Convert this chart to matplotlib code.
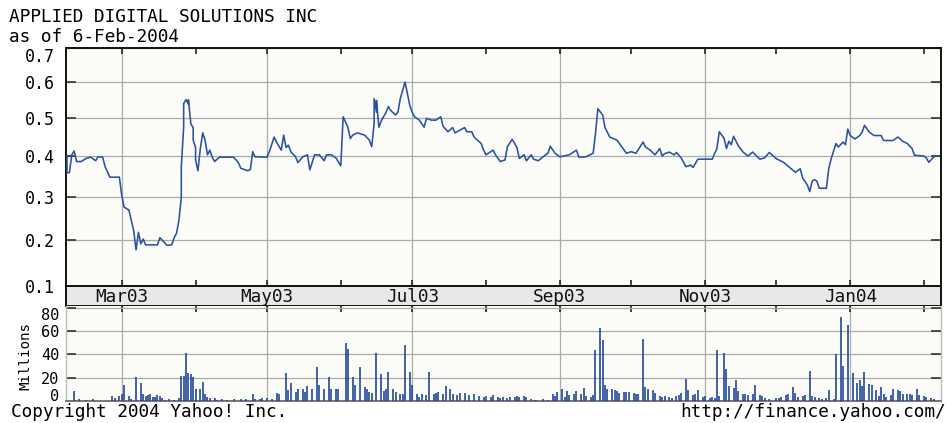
import numpy as np
import matplotlib
matplotlib.use('Agg')
import matplotlib.pyplot as plt
import matplotlib.dates as mdates
import matplotlib.transforms as mtransforms

# ---- chart text ----
TITLE = "APPLIED DIGITAL SOLUTIONS INC"
SUBTITLE = "as of 6-Feb-2004"
FOOT_LEFT = "Copyright 2004 Yahoo! Inc."
FOOT_RIGHT = "http://finance.yahoo.com/"

# ---- daily close ----
price_dates = [
    '2003-02-06', '2003-02-06', '2003-02-07', '2003-02-08', '2003-02-09', '2003-02-10',
    '2003-02-12', '2003-02-14', '2003-02-16', '2003-02-18', '2003-02-19', '2003-02-21',
    '2003-02-22', '2003-02-24', '2003-02-28', '2003-03-01', '2003-03-02', '2003-03-04',
    '2003-03-05', '2003-03-06', '2003-03-07', '2003-03-08', '2003-03-09', '2003-03-10',
    '2003-03-11', '2003-03-16', '2003-03-17', '2003-03-19', '2003-03-20', '2003-03-22',
    '2003-03-23', '2003-03-24', '2003-03-25', '2003-03-26', '2003-03-26', '2003-03-27',
    '2003-03-27', '2003-03-28', '2003-03-29', '2003-03-29', '2003-03-30', '2003-03-31',
    '2003-03-31', '2003-04-01', '2003-04-01', '2003-04-02', '2003-04-03', '2003-04-04',
    '2003-04-05', '2003-04-06', '2003-04-07', '2003-04-08', '2003-04-09', '2003-04-11',
    '2003-04-17', '2003-04-19', '2003-04-20', '2003-04-23', '2003-04-24', '2003-04-25',
    '2003-04-26', '2003-05-01', '2003-05-02', '2003-05-04', '2003-05-05', '2003-05-07',
    '2003-05-08', '2003-05-09', '2003-05-10', '2003-05-11', '2003-05-13', '2003-05-14',
    '2003-05-16', '2003-05-18', '2003-05-19', '2003-05-21', '2003-05-23', '2003-05-25',
    '2003-05-26', '2003-05-28', '2003-05-30', '2003-06-01', '2003-06-02', '2003-06-04',
    '2003-06-05', '2003-06-06', '2003-06-08', '2003-06-11', '2003-06-13', '2003-06-14',
    '2003-06-15', '2003-06-15', '2003-06-16', '2003-06-16', '2003-06-17', '2003-06-18',
    '2003-06-20', '2003-06-21', '2003-06-22', '2003-06-24', '2003-06-25', '2003-06-26',
    '2003-06-27', '2003-06-28', '2003-06-29', '2003-06-30', '2003-07-01', '2003-07-02',
    '2003-07-04', '2003-07-06', '2003-07-07', '2003-07-09', '2003-07-11', '2003-07-13',
    '2003-07-14', '2003-07-16', '2003-07-18', '2003-07-19', '2003-07-21', '2003-07-23',
    '2003-07-24', '2003-07-26', '2003-07-27', '2003-07-30', '2003-07-31', '2003-08-01',
    '2003-08-04', '2003-08-05', '2003-08-07', '2003-08-09', '2003-08-10', '2003-08-12',
    '2003-08-14', '2003-08-15', '2003-08-17', '2003-08-18', '2003-08-20', '2003-08-21',
    '2003-08-23', '2003-08-25', '2003-08-27', '2003-08-28', '2003-08-30', '2003-09-01',
    '2003-09-05', '2003-09-08', '2003-09-09', '2003-09-12', '2003-09-15', '2003-09-16',
    '2003-09-17', '2003-09-19', '2003-09-20', '2003-09-22', '2003-09-25', '2003-09-27',
    '2003-09-29', '2003-10-01', '2003-10-03', '2003-10-06', '2003-10-07', '2003-10-09',
    '2003-10-11', '2003-10-13', '2003-10-14', '2003-10-15', '2003-10-17', '2003-10-19',
    '2003-10-20', '2003-10-22', '2003-10-24', '2003-10-26', '2003-10-27', '2003-10-29',
    '2003-11-04', '2003-11-06', '2003-11-07', '2003-11-09', '2003-11-10', '2003-11-11',
    '2003-11-12', '2003-11-13', '2003-11-15', '2003-11-17', '2003-11-19', '2003-11-21',
    '2003-11-24', '2003-11-26', '2003-11-28', '2003-12-01', '2003-12-04', '2003-12-07',
    '2003-12-09', '2003-12-11', '2003-12-12', '2003-12-14', '2003-12-15', '2003-12-16',
    '2003-12-17', '2003-12-18', '2003-12-19', '2003-12-22', '2003-12-23', '2003-12-24',
    '2003-12-26', '2003-12-27', '2003-12-29', '2003-12-30', '2003-12-31', '2004-01-01',
    '2004-01-03', '2004-01-05', '2004-01-06', '2004-01-07', '2004-01-09', '2004-01-11',
    '2004-01-14', '2004-01-15', '2004-01-19', '2004-01-21', '2004-01-22', '2004-01-23',
    '2004-01-25', '2004-01-27', '2004-01-28', '2004-02-01', '2004-02-02', '2004-02-03',
    '2004-02-05', '2004-02-06',
]
price_values = [
    0.400, 0.358, 0.358, 0.403, 0.413, 0.386,
    0.386, 0.394, 0.397, 0.388, 0.398, 0.397,
    0.373, 0.347, 0.347, 0.302, 0.275, 0.268,
    0.244, 0.221, 0.178, 0.217, 0.191, 0.202,
    0.189, 0.189, 0.205, 0.194, 0.188, 0.189,
    0.205, 0.215, 0.244, 0.298, 0.373, 0.475,
    0.539, 0.550, 0.537, 0.550, 0.484, 0.474,
    0.441, 0.422, 0.390, 0.363, 0.419, 0.460,
    0.441, 0.403, 0.415, 0.397, 0.386, 0.397,
    0.397, 0.383, 0.369, 0.363, 0.366, 0.411,
    0.398, 0.397, 0.411, 0.449, 0.436, 0.415,
    0.454, 0.422, 0.428, 0.411, 0.398, 0.383,
    0.398, 0.403, 0.365, 0.403, 0.403, 0.388,
    0.403, 0.403, 0.395, 0.375, 0.503, 0.475,
    0.445, 0.454, 0.460, 0.454, 0.441, 0.424,
    0.484, 0.553, 0.515, 0.548, 0.475, 0.492,
    0.515, 0.531, 0.520, 0.508, 0.515, 0.553,
    0.576, 0.600, 0.567, 0.534, 0.515, 0.503,
    0.494, 0.475, 0.499, 0.494, 0.494, 0.503,
    0.477, 0.463, 0.474, 0.460, 0.467, 0.474,
    0.463, 0.463, 0.449, 0.432, 0.415, 0.403,
    0.415, 0.403, 0.386, 0.390, 0.424, 0.443,
    0.422, 0.394, 0.403, 0.388, 0.403, 0.392,
    0.388, 0.398, 0.407, 0.425, 0.407, 0.398,
    0.403, 0.415, 0.397, 0.398, 0.407, 0.458,
    0.525, 0.508, 0.474, 0.449, 0.441, 0.424,
    0.407, 0.411, 0.407, 0.436, 0.423, 0.415,
    0.403, 0.419, 0.400, 0.406, 0.410, 0.403,
    0.409, 0.395, 0.373, 0.377, 0.371, 0.392,
    0.392, 0.419, 0.463, 0.446, 0.419, 0.438,
    0.429, 0.451, 0.426, 0.410, 0.400, 0.410,
    0.392, 0.395, 0.409, 0.393, 0.384, 0.369,
    0.359, 0.368, 0.345, 0.328, 0.312, 0.337,
    0.341, 0.337, 0.320, 0.320, 0.369, 0.393,
    0.432, 0.423, 0.436, 0.429, 0.470, 0.453,
    0.444, 0.453, 0.462, 0.480, 0.462, 0.453,
    0.453, 0.440, 0.440, 0.449, 0.444, 0.438,
    0.432, 0.419, 0.402, 0.400, 0.395, 0.384,
    0.397, 0.400,
]

# ---- daily volume, millions of shares ----
volume_dates = [
    '2003-02-09', '2003-02-11', '2003-02-14', '2003-02-17', '2003-02-25', '2003-02-26',
    '2003-02-28', '2003-03-01', '2003-03-02', '2003-03-04', '2003-03-05', '2003-03-07',
    '2003-03-09', '2003-03-10', '2003-03-11', '2003-03-12', '2003-03-13', '2003-03-14',
    '2003-03-15', '2003-03-16', '2003-03-17', '2003-03-18', '2003-03-19', '2003-03-21',
    '2003-03-23', '2003-03-25', '2003-03-26', '2003-03-27', '2003-03-28', '2003-03-29',
    '2003-03-30', '2003-03-31', '2003-04-01', '2003-04-03', '2003-04-04', '2003-04-05',
    '2003-04-06', '2003-04-07', '2003-04-09', '2003-04-10', '2003-04-12', '2003-04-14',
    '2003-04-17', '2003-04-20', '2003-04-22', '2003-04-25', '2003-04-26', '2003-04-28',
    '2003-04-29', '2003-05-01', '2003-05-03', '2003-05-05', '2003-05-06', '2003-05-09',
    '2003-05-10', '2003-05-11', '2003-05-13', '2003-05-14', '2003-05-16', '2003-05-17',
    '2003-05-18', '2003-05-20', '2003-05-22', '2003-05-23', '2003-05-25', '2003-05-27',
    '2003-05-28', '2003-05-30', '2003-05-31', '2003-06-03', '2003-06-04', '2003-06-06',
    '2003-06-07', '2003-06-09', '2003-06-11', '2003-06-12', '2003-06-13', '2003-06-14',
    '2003-06-16', '2003-06-18', '2003-06-19', '2003-06-20', '2003-06-21', '2003-06-23',
    '2003-06-24', '2003-06-26', '2003-06-27', '2003-06-28', '2003-06-30', '2003-07-01',
    '2003-07-03', '2003-07-04', '2003-07-05', '2003-07-07', '2003-07-08', '2003-07-10',
    '2003-07-11', '2003-07-12', '2003-07-14', '2003-07-15', '2003-07-17', '2003-07-18',
    '2003-07-20', '2003-07-21', '2003-07-23', '2003-07-25', '2003-07-27', '2003-07-29',
    '2003-07-31', '2003-08-01', '2003-08-03', '2003-08-04', '2003-08-06', '2003-08-07',
    '2003-08-08', '2003-08-10', '2003-08-11', '2003-08-13', '2003-08-14', '2003-08-15',
    '2003-08-17', '2003-08-18', '2003-08-20', '2003-08-21', '2003-08-22', '2003-08-25',
    '2003-08-27', '2003-08-29', '2003-08-30', '2003-08-31', '2003-09-02', '2003-09-03',
    '2003-09-04', '2003-09-05', '2003-09-07', '2003-09-08', '2003-09-10', '2003-09-11',
    '2003-09-12', '2003-09-14', '2003-09-15', '2003-09-16', '2003-09-18', '2003-09-19',
    '2003-09-20', '2003-09-21', '2003-09-23', '2003-09-24', '2003-09-25', '2003-09-26',
    '2003-09-28', '2003-09-29', '2003-09-30', '2003-10-02', '2003-10-03', '2003-10-04',
    '2003-10-06', '2003-10-07', '2003-10-08', '2003-10-10', '2003-10-11', '2003-10-13',
    '2003-10-14', '2003-10-15', '2003-10-17', '2003-10-18', '2003-10-20', '2003-10-21',
    '2003-10-22', '2003-10-24', '2003-10-25', '2003-10-27', '2003-10-28', '2003-10-29',
    '2003-10-31', '2003-11-01', '2003-11-03', '2003-11-04', '2003-11-05', '2003-11-06',
    '2003-11-07', '2003-11-09', '2003-11-10', '2003-11-11', '2003-11-13', '2003-11-14',
    '2003-11-15', '2003-11-17', '2003-11-18', '2003-11-19', '2003-11-21', '2003-11-22',
    '2003-11-24', '2003-11-25', '2003-11-26', '2003-11-28', '2003-12-01', '2003-12-02',
    '2003-12-03', '2003-12-05', '2003-12-06', '2003-12-08', '2003-12-09', '2003-12-10',
    '2003-12-12', '2003-12-13', '2003-12-15', '2003-12-16', '2003-12-17', '2003-12-19',
    '2003-12-20', '2003-12-22', '2003-12-23', '2003-12-25', '2003-12-26', '2003-12-28',
    '2003-12-29', '2003-12-31', '2004-01-02', '2004-01-04', '2004-01-05', '2004-01-06',
    '2004-01-07', '2004-01-09', '2004-01-10', '2004-01-12', '2004-01-13', '2004-01-14',
    '2004-01-15', '2004-01-16', '2004-01-18', '2004-01-19', '2004-01-21', '2004-01-22',
    '2004-01-23', '2004-01-25', '2004-01-26', '2004-01-27', '2004-01-29', '2004-01-30',
    '2004-02-01', '2004-02-02', '2004-02-04', '2004-02-05',
]
volume_millions = [
    8.7, 2.0, 1.2, 2.0, 4.1, 2.9,
    4.1, 5.8, 13.9, 4.1, 2.0, 20.3,
    15.1, 5.8, 4.1, 4.9, 6.4, 3.5,
    3.5, 4.9, 4.6, 2.9, 1.2, 2.0,
    1.2, 2.9, 21.4, 21.4, 41.2, 24.1,
    23.2, 20.9, 9.9, 9.9, 16.5, 5.8,
    3.5, 2.9, 2.9, 1.2, 1.7, 1.2,
    1.7, 1.4, 1.7, 6.4, 1.7, 2.0,
    2.9, 2.6, 2.0, 7.2, 5.8, 23.8,
    9.3, 15.1, 7.8, 10.7, 9.9, 7.8,
    12.8, 10.7, 29.0, 13.6, 10.7, 20.3,
    9.9, 9.9, 9.9, 49.9, 44.9, 20.3,
    13.6, 29.0, 11.6, 10.7, 7.8, 7.0,
    41.2, 23.2, 8.7, 9.9, 25.2, 9.9,
    7.8, 6.4, 6.4, 48.1, 25.2, 13.6,
    5.8, 3.5, 6.4, 4.9, 24.6, 5.8,
    7.0, 7.8, 5.8, 12.8, 10.7, 5.8,
    4.9, 7.0, 7.0, 4.9, 6.4, 4.1,
    3.5, 4.3, 3.5, 5.2, 3.5, 2.9,
    3.5, 2.9, 3.5, 3.5, 4.3, 3.5,
    4.3, 3.5, 1.4, 0.6, 1.2, 1.4,
    1.2, 6.4, 4.3, 8.1, 10.1, 3.5,
    9.0, 5.2, 5.8, 9.0, 6.4, 11.0,
    4.3, 3.5, 5.2, 44.1, 62.3, 52.2,
    13.9, 10.1, 10.1, 9.3, 8.7, 7.2,
    8.1, 8.1, 8.1, 7.2, 6.4, 6.4,
    53.0, 11.6, 10.1, 9.3, 7.2, 4.3,
    3.5, 4.3, 3.5, 2.9, 4.3, 5.2,
    7.2, 18.8, 9.3, 5.2, 6.4, 9.3,
    3.5, 4.3, 2.9, 3.5, 2.9, 43.5,
    4.3, 41.2, 27.5, 13.0, 11.0, 17.7,
    8.7, 6.4, 5.8, 5.2, 6.4, 13.6,
    5.2, 4.3, 2.9, 1.4, 2.3, 2.9,
    3.5, 5.2, 5.8, 11.6, 7.2, 3.5,
    4.3, 5.2, 25.5, 4.3, 3.5, 2.3,
    1.4, 2.3, 9.3, 1.4, 40.6, 72.5,
    30.1, 65.2, 23.8, 15.4, 18.0, 13.0,
    25.2, 14.5, 13.6, 9.3, 4.3, 11.6,
    5.8, 3.5, 5.2, 10.1, 9.3, 8.7,
    6.4, 5.8, 6.4, 5.2, 10.1, 5.2,
    4.3, 3.5, 2.9, 1.4,
]

# ---- axes values ----
price_ticks = [0.1, 0.2, 0.3, 0.4, 0.5, 0.6, 0.7]
volume_ticks = [0, 20, 40, 60, 80]
month_labels = ['Mar03', 'May03', 'Jul03', 'Sep03', 'Nov03', 'Jan04']
month_label_dates = ['2003-03-01', '2003-05-01', '2003-07-01',
                     '2003-09-01', '2003-11-01', '2004-01-01']
X_START = np.datetime64('2003-02-05T14:00')
X_END = np.datetime64('2004-02-08T04:00')

LINE_BLUE = '#2a52a0'
BAR_BLUE = '#23479a'
GRID = '#ababab'
PANEL_BG = '#fcfcf8'
TEXT_SIZE = 12.8
TICK_SIZE = 12.0
VOL_TICK_SIZE = 11.0

plt.rcParams['font.family'] = 'DejaVu Sans Mono'
plt.rcParams['font.size'] = TEXT_SIZE


def price_fwd(v):
    # the chart's price axis is mildly compressed towards the top
    return np.log(np.asarray(v, dtype=float) + 1.2)


def price_inv(u):
    return np.exp(np.asarray(u, dtype=float)) - 1.2


def month_ticks(ax, top=True, bottom=True):
    ax.xaxis.set_major_locator(mdates.MonthLocator(bymonth=[1, 3, 5, 7, 9, 11]))
    ax.xaxis.set_minor_locator(mdates.MonthLocator(bymonth=[2, 4, 6, 8, 10, 12]))
    ax.tick_params(axis='x', which='both', direction='in', length=4, width=1.2,
                   color='#222222', top=top, bottom=bottom,
                   labelbottom=False, labeltop=False)


fig = plt.figure(figsize=(9.5, 4.23), dpi=100)
fig.patch.set_facecolor('white')

ax = fig.add_axes([0.0695, 0.3227, 0.9211, 0.5638])
band = fig.add_axes([0.0695, 0.2766, 0.9211, 0.0461])
vol = fig.add_axes([0.0695, 0.0520, 0.9211, 0.2246])

p_dates = np.array(price_dates, dtype='datetime64[D]')
v_dates = np.array(volume_dates, dtype='datetime64[D]')

# --- price panel ---
ax.set_facecolor(PANEL_BG)
ax.set_yscale('function', functions=(price_fwd, price_inv))
ax.plot(p_dates, price_values, color=LINE_BLUE, lw=1.15, zorder=3)
ax.set_xlim(X_START, X_END)
ax.set_ylim(0.1, 0.7)
ax.set_yticks(price_ticks, [f'{t:.1f}' for t in price_ticks])
ax.yaxis.set_minor_locator(matplotlib.ticker.NullLocator())
ax.tick_params(axis='y', direction='in', length=7, width=1.2, color='#333333',
               right=True, pad=8, labelsize=TICK_SIZE)
month_ticks(ax)
ax.grid(True, which='major', color=GRID, lw=0.9)
for s in ax.spines.values():
    s.set_color('#111111')
    s.set_linewidth(1.4)
ylabels = ax.yaxis.get_major_ticks()
ylabels[-1].label1.set_verticalalignment('top')

# --- month band ---
band.set_facecolor('#e8e8e6')
band.set_xlim(X_START, X_END)
band.set_ylim(0, 1)
band.set_xticks([])
band.set_yticks([])
for s in band.spines.values():
    s.set_color('#111111')
    s.set_linewidth(1.4)
trans = mtransforms.blended_transform_factory(band.transData, band.transAxes)
for d, lab in zip(month_label_dates, month_labels):
    band.text(np.datetime64(d), 0.45, lab, transform=trans, ha='center',
              va='center', fontsize=TEXT_SIZE, color='#111111')

# --- volume panel ---
vol.set_facecolor(PANEL_BG)
vol.vlines(v_dates, 0, volume_millions, color=BAR_BLUE, lw=1.2, zorder=3)
vol.set_xlim(X_START, X_END)
vol.set_ylim(0, 81.6)
vol.set_yticks(volume_ticks, [str(t) for t in volume_ticks])
vol.tick_params(axis='y', direction='in', length=7, width=1.2, color='#333333',
                right=True, pad=5, labelsize=VOL_TICK_SIZE)
month_ticks(vol, top=True, bottom=False)
vol.grid(True, which='major', color=GRID, lw=0.9)
for side, s in vol.spines.items():
    s.set_color('#bbbbbb')
    s.set_linewidth(1.0)
vol.spines['top'].set_visible(False)
vol.spines['bottom'].set_color('#777777')
vol.spines['bottom'].set_linewidth(1.4)
vticks = vol.yaxis.get_major_ticks()
vticks[0].label1.set_verticalalignment('baseline')
vticks[-1].label1.set_verticalalignment('top')

# --- texts ---
fig.text(9 / 950, 1 - 21.7 / 423, TITLE, ha='left', va='baseline', fontsize=TEXT_SIZE)
fig.text(9 / 950, 1 - 41.5 / 423, SUBTITLE, ha='left', va='baseline', fontsize=TEXT_SIZE)
fig.text(25 / 950, 1 - 356 / 423, 'Millions', rotation=90, ha='center',
         va='center', fontsize=10.2)
fig.text(11 / 950, 1 - 417 / 423, FOOT_LEFT, ha='left', va='baseline', fontsize=TEXT_SIZE)
fig.text(946 / 950, 1 - 417 / 423, FOOT_RIGHT, ha='right', va='baseline', fontsize=TEXT_SIZE)

fig.savefig('out.png', dpi=100)
